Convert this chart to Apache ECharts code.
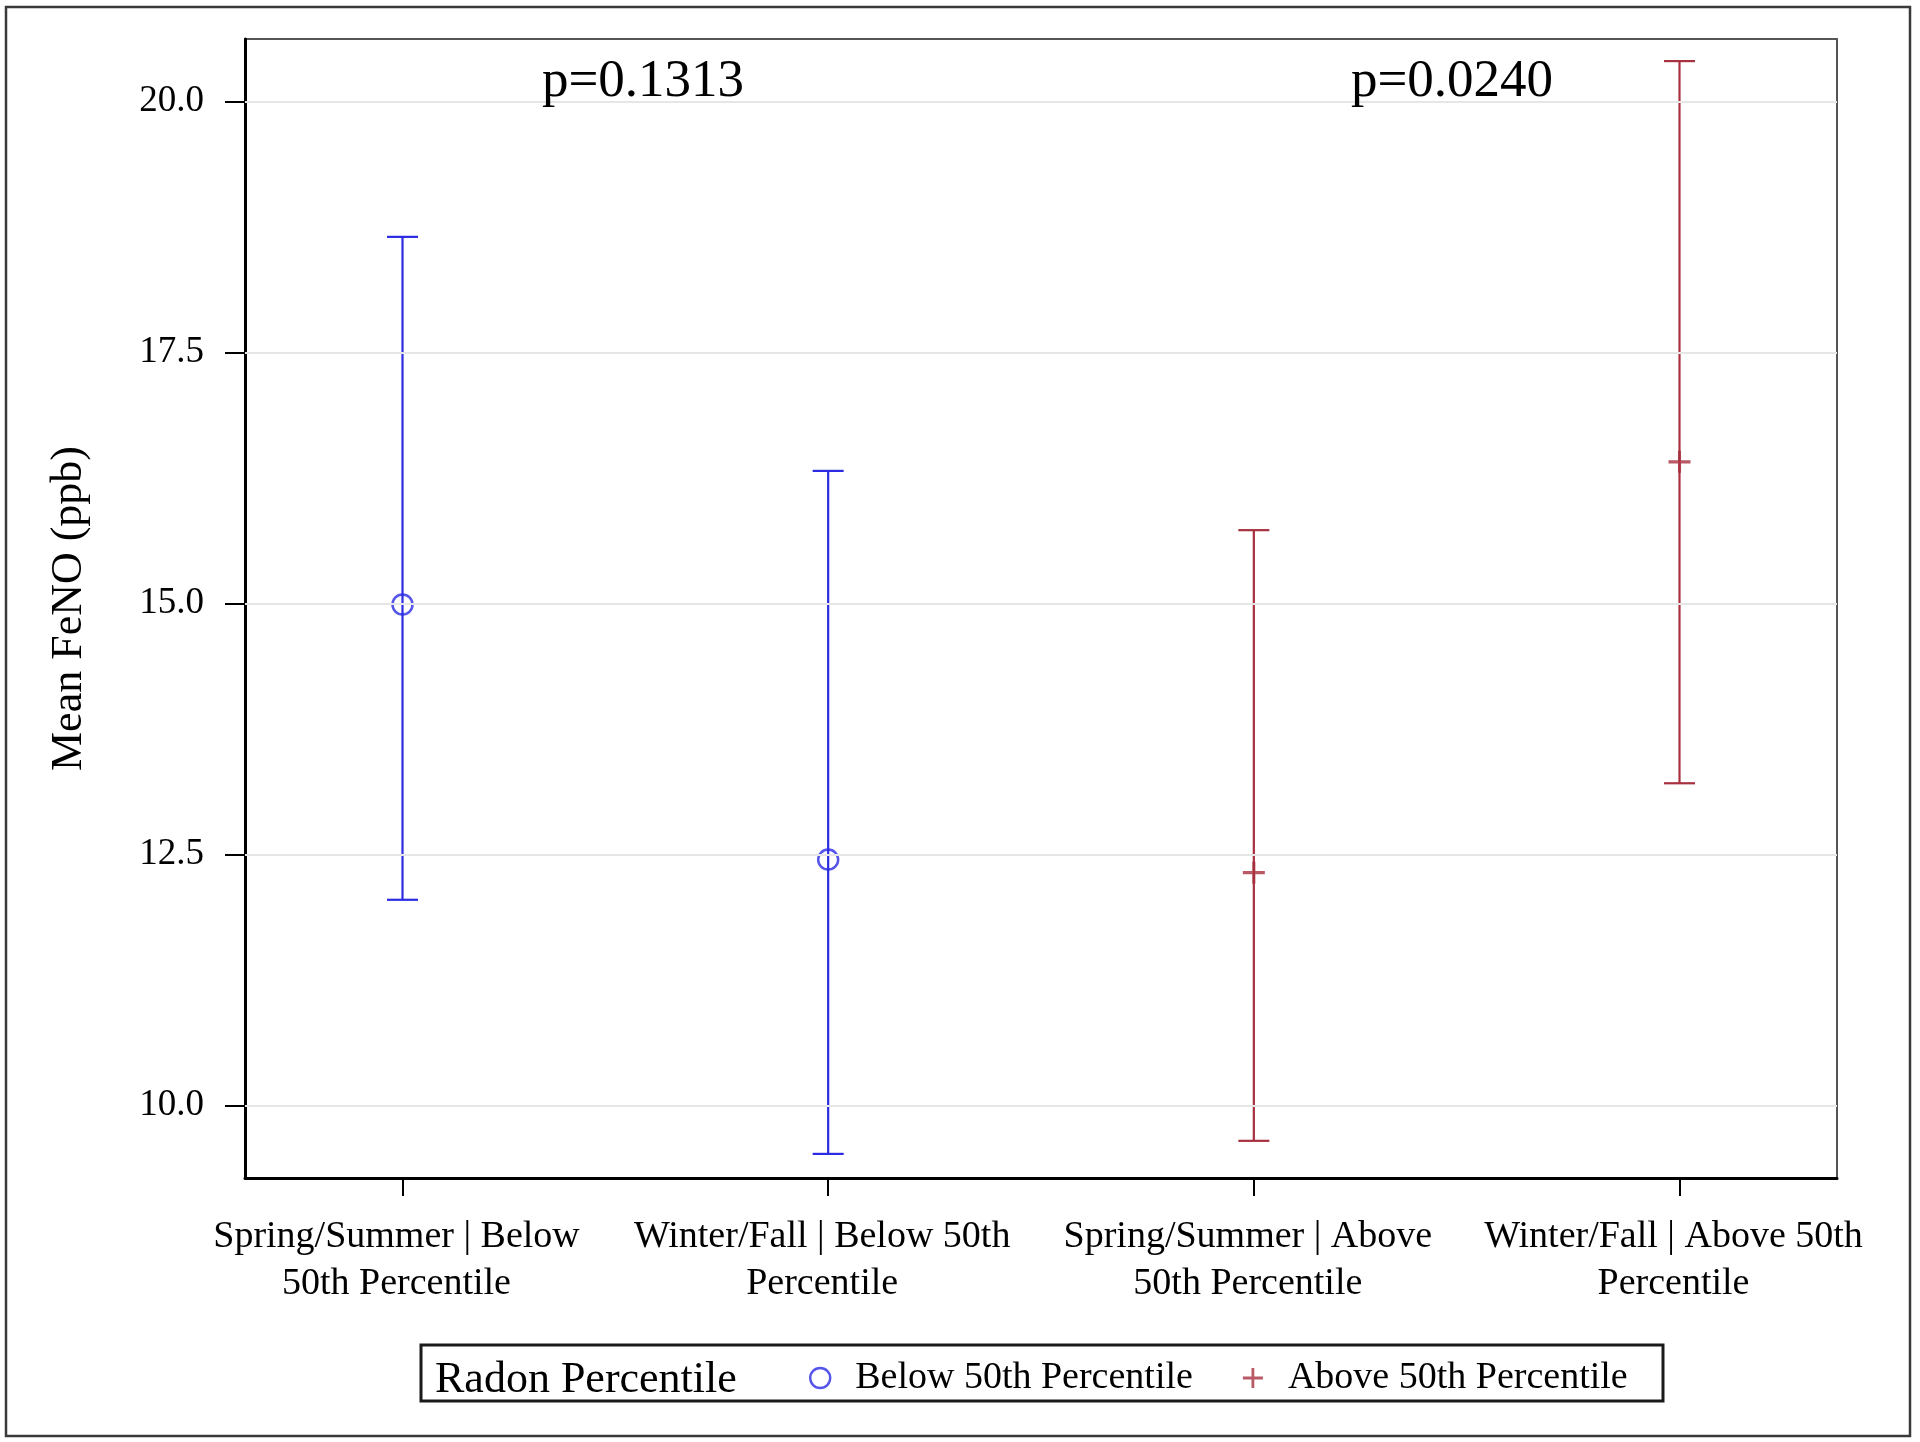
<!DOCTYPE html>
<html><head><meta charset="utf-8">
<script src="https://cdn.jsdelivr.net/npm/echarts@6/dist/echarts.min.js"></script>
<style>html,body{margin:0;padding:0;background:#fff}#c{width:1920px;height:1442px}</style>
</head><body><div id="c"></div>
<script>
// ---- data ----
const categories = ['Spring/Summer | Below\n50th Percentile', 'Winter/Fall | Below 50th\nPercentile', 'Spring/Summer | Above\n50th Percentile', 'Winter/Fall | Above 50th\nPercentile'];
const categoryPos = [1, 2, 3, 4];
const groupNames = ['Below 50th Percentile', 'Above 50th Percentile'];
const belowCats = [1, 2];
const belowMean = [14.99, 12.45];
const belowLower = [12.05, 9.52];
const belowUpper = [18.65, 16.32];
const aboveCats = [3, 4];
const aboveMean = [12.32, 16.41];
const aboveLower = [9.65, 13.21];
const aboveUpper = [15.73, 20.40];
const yTicks = [10.0, 12.5, 15.0, 17.5, 20.0];
const pLabels = ['p=0.1313', 'p=0.0240'];
const legendTitle = 'Radon Percentile';
const yTitle = 'Mean FeNO (ppb)';

// ---- style ----
const FONT = "'Liberation Serif', 'Times New Roman', serif";
const BLUE = '#2b2be3';
const RED = '#a8303f';
const PLUS = 'path://M8.6,0H11.4V8.6H20V11.4H11.4V20H8.6V11.4H0V8.6H8.6Z';

function errData(cats, lo, hi) { return cats.map((c, i) => [c, lo[i], hi[i]]); }
function ptData(cats, m) { return cats.map((c, i) => [c, m[i]]); }
function errBar(color) {
  return function (params, api) {
    const x = api.value(0);
    const a = api.coord([x, api.value(1)]);
    const b = api.coord([x, api.value(2)]);
    const hw = 15.5;
    const st = { stroke: color, lineWidth: 2.2 };
    return { type: 'group', children: [
      { type: 'line', shape: { x1: a[0], y1: a[1], x2: b[0], y2: b[1] }, style: st },
      { type: 'line', shape: { x1: a[0] - hw, y1: a[1], x2: a[0] + hw, y2: a[1] }, style: st },
      { type: 'line', shape: { x1: b[0] - hw, y1: b[1], x2: b[0] + hw, y2: b[1] }, style: st }
    ] };
  };
}

const chart = echarts.init(document.getElementById('c'), null, { renderer: 'canvas' });
chart.setOption({
  backgroundColor: '#ffffff',
  animation: false,
  textStyle: { fontFamily: FONT },
  grid: { left: 245, top: 39, width: 1592, height: 1139, show: true, borderColor: '#555', borderWidth: 2, backgroundColor: 'transparent' },
  xAxis: {
    type: 'value', min: 0.63, max: 4.37,
    splitLine: { show: false },
    axisLine: { show: true, onZero: false, lineStyle: { color: '#000', width: 3 } },
    axisTick: { show: true, customValues: categoryPos, length: 18, lineStyle: { color: '#000', width: 2 } },
    axisLabel: { customValues: categoryPos, formatter: v => categories[Math.round(v) - 1], fontFamily: FONT, fontSize: 38, lineHeight: 47, color: '#000', margin: 36, hideOverlap: false, padding: [0, 12, 0, 0] }
  },
  yAxis: {
    type: 'value', min: 9.28, max: 20.62,
    name: yTitle, nameLocation: 'middle', nameGap: 154,
    nameTextStyle: { fontFamily: FONT, fontSize: 44, color: '#000' },
    splitLine: { show: false },
    axisLine: { show: true, onZero: false, lineStyle: { color: '#000', width: 3 } },
    axisTick: { show: true, customValues: yTicks, length: 20, lineStyle: { color: '#000', width: 2 } },
    axisLabel: { customValues: yTicks, formatter: v => Number(v).toFixed(1), fontFamily: FONT, fontSize: 37, color: '#000', margin: 41 }
  },
  legend: {
    left: 809, top: 1358, padding: 0, itemGap: 50, itemWidth: 60, itemHeight: 20,
    textStyle: { fontFamily: FONT, fontSize: 38, lineHeight: 40, color: '#000' },
    data: [
      { name: groupNames[0], icon: 'circle', itemStyle: { color: 'transparent', borderColor: BLUE, borderWidth: 2.4 } },
      { name: groupNames[1], icon: PLUS, itemStyle: { color: RED, borderWidth: 0 } }
    ]
  },
  graphic: [
    { type: 'rect', z: 10, shape: { x: 6, y: 7, width: 1904, height: 1429 }, style: { fill: 'none', stroke: '#3a3a3a', lineWidth: 2.5 }, silent: true },
    { type: 'rect', z: 10, shape: { x: 421, y: 1345, width: 1242, height: 56 }, style: { fill: 'none', stroke: '#1a1a1a', lineWidth: 3 }, silent: true },
    { type: 'text', z: 10, x: 435, y: 1380, style: { text: legendTitle, font: "44px 'Liberation Serif', serif", fill: '#000', textAlign: 'left', textVerticalAlign: 'middle' }, silent: true },
    { type: 'text', z: 10, x: 643, y: 82, style: { text: pLabels[0], font: "53px 'Liberation Serif', serif", fill: '#000', textAlign: 'center', textVerticalAlign: 'middle' }, silent: true },
    { type: 'text', z: 10, x: 1452, y: 82, style: { text: pLabels[1], font: "53px 'Liberation Serif', serif", fill: '#000', textAlign: 'center', textVerticalAlign: 'middle' }, silent: true }
  ],
  series: [
    { name: groupNames[0], type: 'scatter', z: 4, symbol: 'circle', symbolSize: 20,
      itemStyle: { color: 'transparent', borderColor: BLUE, borderWidth: 2.5 },
      data: ptData(belowCats, belowMean) },
    { name: groupNames[1], type: 'scatter', z: 4, symbol: PLUS, symbolSize: 22,
      itemStyle: { color: RED, borderWidth: 0 },
      data: ptData(aboveCats, aboveMean) },
    { name: groupNames[0], type: 'custom', z: 3, renderItem: errBar(BLUE), encode: { x: 0, y: [1, 2] },
      data: errData(belowCats, belowLower, belowUpper) },
    { name: groupNames[1], type: 'custom', z: 3, renderItem: errBar(RED), encode: { x: 0, y: [1, 2] },
      data: errData(aboveCats, aboveLower, aboveUpper) },
    { name: 'grid', type: 'line', z: 1, data: [], silent: true,
      markLine: { silent: true, symbol: 'none', label: { show: false }, animation: false,
        lineStyle: { color: '#e6e6e6', width: 2, type: 'solid' },
        data: yTicks.map(v => ({ yAxis: v })) } }
  ]
});
</script></body></html>
